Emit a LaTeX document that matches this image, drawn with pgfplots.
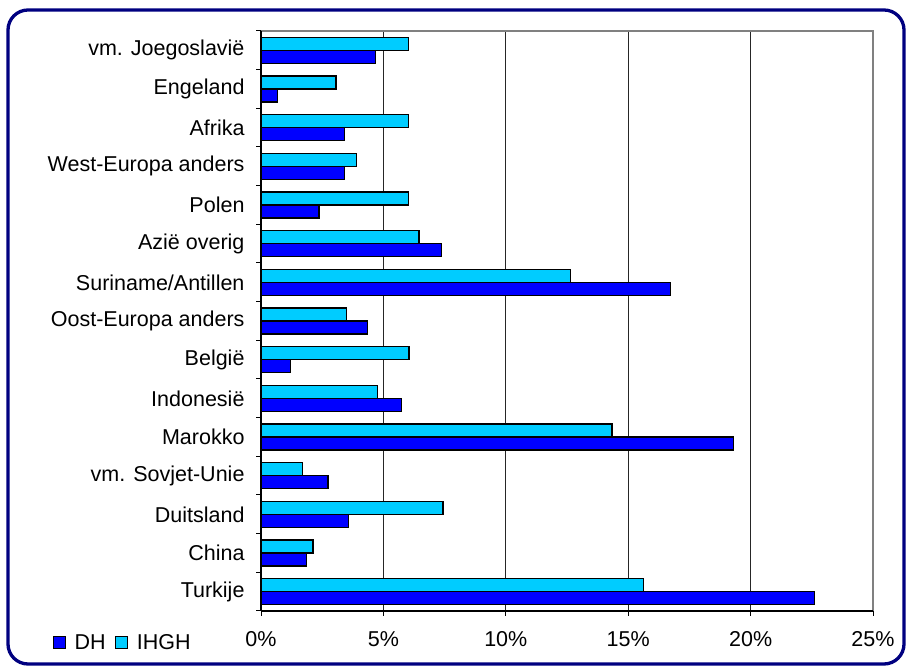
\documentclass[border=0pt]{standalone}
\usepackage{pgfplots}
\pgfplotsset{compat=1.18}
\usepackage{fontspec}
\setmainfont{Liberation Sans}
\definecolor{dhblue}{HTML}{0000FF}
\definecolor{ihghcyan}{HTML}{00CCFF}
\definecolor{bordernavy}{HTML}{000080}
\begin{document}
\begin{tikzpicture}[x=1bp,y=1bp]
\useasboundingbox (0,0) rectangle (909,670);
\fill[white] (0,0) rectangle (909,670);
\draw[bordernavy, line width=3.3bp, rounded corners=20bp] (8,6) rectangle (904,660);
\begin{axis}[
  at={(261bp,59bp)}, anchor=south west,
  scale only axis, width=612bp, height=580bp,
  xbar, bar width=13bp,
  xmin=0, xmax=25,
  ymin=-0.5, ymax=14.5,
  xtick={0,5,...,25},
  xticklabel={\pgfmathprintnumber{\tick}\%},
  /pgf/number format/assume math mode=true,
  ytick={0,...,14},
  yticklabels={Turkije,China,Duitsland,vm. Sovjet-Unie,Marokko,Indonesië,België,Oost-Europa anders,Suriname/Antillen,Azië overig,Polen,West-Europa anders,Afrika,Engeland,vm. Joegoslavië},
  minor ytick={-0.5,0.5,...,14.5},
  major y tick style={draw=none},
  minor y tick style={black, line width=1bp},
  minor tick length=5bp,
  x tick style={black, line width=1bp},
  major tick length=5bp,
  tick align=outside,
  xtick pos=bottom, ytick pos=left,
  xmajorgrids, grid style={black!85, line width=0.8bp},
  axis line style={draw=none},
  tick label style={font=\fontsize{21.5bp}{25bp}\selectfont},
  xticklabel style={yshift=-12bp},
  yticklabel style={xshift=-8bp},
  legend style={at={(-0.341,-0.055)}, anchor=west, draw=none, fill=none,
    font=\fontsize{21.5bp}{25bp}\selectfont, legend columns=2,
    /tikz/every even column/.append style={column sep=9bp},
    /tikz/every odd column/.append style={column sep=9bp},
    nodes={inner sep=0pt},
    inner sep=0pt},
  legend image code/.code={\draw[#1, draw=black, line width=1.2bp] (0bp,-6bp) rectangle (12bp,6bp);},
  clip=false,
]
\draw[gray, line width=1.2bp] (axis cs:0,14.5) -- (axis cs:25,14.5) -- (axis cs:25,-0.5);
\addplot[fill=dhblue, draw=black, line width=1.4bp, bar shift=-6.5bp] coordinates {
(22.62,0) (1.87,1) (3.58,2) (2.74,3) (19.29,4) (5.73,5) (1.20,6) (4.36,7)
(16.72,8) (7.38,9) (2.37,10) (3.40,11) (3.40,12) (0.68,13) (4.68,14)};
\addplot[fill=ihghcyan, draw=black, line width=1.4bp, bar shift=6.5bp] coordinates {
(15.62,0) (2.13,1) (7.43,2) (1.70,3) (14.34,4) (4.77,5) (6.05,6) (3.50,7)
(12.64,8) (6.46,9) (6.03,10) (3.90,11) (6.03,12) (3.06,13) (6.03,14)};
\legend{DH,IHGH}
\draw[black, line width=1.2bp] (axis cs:0,-0.5) -- (axis cs:25,-0.5);
\draw[black, line width=1.2bp] (axis cs:0,-0.5) -- (axis cs:0,14.5);
\end{axis}
\end{tikzpicture}
\end{document}
